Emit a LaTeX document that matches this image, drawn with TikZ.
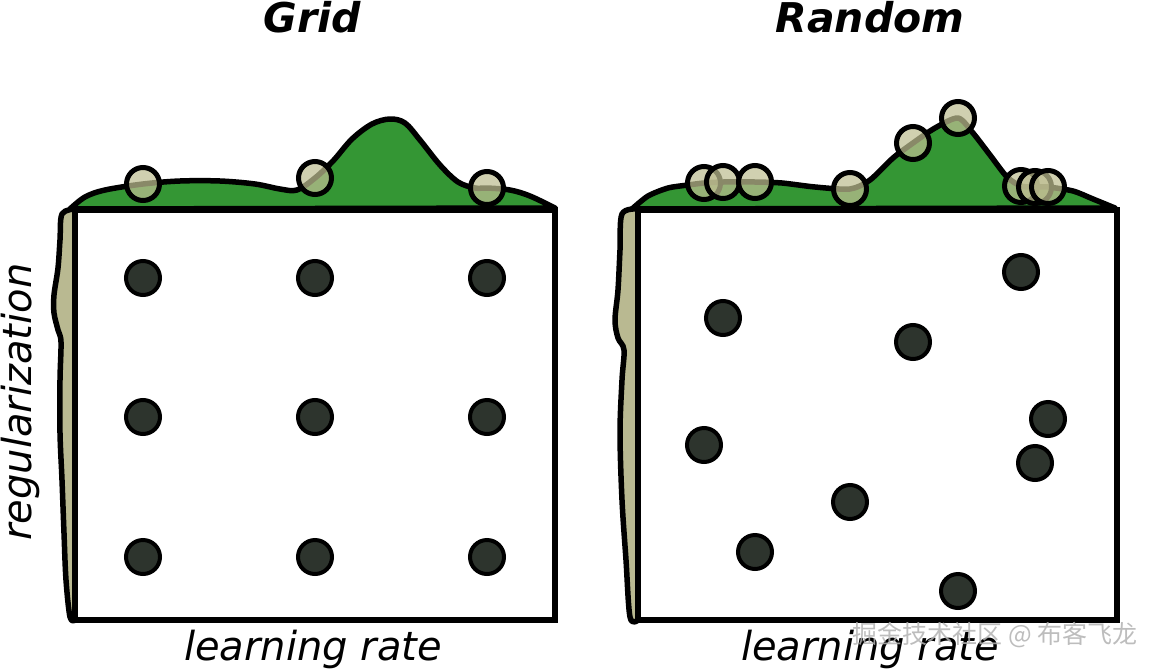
\documentclass[tikz,border=0pt]{standalone}
\usepackage{fontspec}
\setmainfont{DejaVu Sans}
\newfontfamily\cjk{Noto Sans CJK SC}
\definecolor{hillgreen}{RGB}{52,150,52}
\definecolor{sidetan}{RGB}{185,185,145}
\definecolor{balltan}{RGB}{190,190,145}
\definecolor{dotfill}{RGB}{45,52,45}
\tikzset{
  hill/.style={fill=hillgreen, draw=black, line width=5.5pt, line join=round, line cap=round},
  side/.style={fill=sidetan, draw=black, line width=5.5pt, line join=round, line cap=round},
  panel/.style={fill=white, draw=black, line width=6pt, line join=miter},
  ball/.style={circle, minimum size=33pt, inner sep=0pt, fill=balltan, fill opacity=0.72, draw=black, draw opacity=1, line width=5pt},
  pt/.style={circle, minimum size=34pt, inner sep=0pt, fill=dotfill, draw=black, line width=4pt},
  title/.style={font=\fontsize{41}{41}\selectfont\bfseries\itshape},
  axlabel/.style={font=\fontsize{40}{40}\selectfont\itshape},
}
\begin{document}
\begin{tikzpicture}[x=1pt,y=-1pt]
\useasboundingbox (0,0) rectangle (1154,670);

% ---------- left panel (Grid) ----------
\draw[hill] plot[smooth, tension=0.55] coordinates {(70,209) (85,197) (105,190) (143,184) (180,181) (220,181) (255,184) (280,189) (297,190) (315,178) (333,161) (352,139) (372,124) (390,119) (405,123) (420,140) (440,165) (458,182) (475,188) (487,188) (510,190) (530,196) (555,208)} -- cycle;
\draw[side] plot[smooth, tension=0.55] coordinates {(75,209) (62,214) (60,240) (58,268) (54,295) (54,313) (58,330) (61,342) (60,380) (60,433) (62,480) (64,533) (66,580) (70,617) (75,620)} -- cycle;
\draw[panel] (75,210) rectangle (555,620);

\node[ball] (gb1) at (143,184) {};
\node[ball] (gb2) at (315,178) {};
\node[ball] (gb3) at (487,188) {};

\foreach \i/\x in {1/143,2/315,3/487}{
  \foreach \j/\y in {1/278,2/417,3/557}{
    \node[pt] (g\i\j) at (\x,\y) {};
  }
}

\node[title] (tgrid) at (312,17) {Grid};
\node[axlabel, anchor=base] (xl1) at (313,660) {learning rate};
\node[axlabel, rotate=90] (yl) at (20,402) {regularization};

% ---------- right panel (Random) ----------
\draw[hill] plot[smooth, tension=0.45] coordinates {(632,209) (648,196) (668,188) (688,185) (704,183) (723,182) (755,182) (782,183) (815,187) (850,189) (870,180) (893,158) (913,143) (935,128) (958,118) (973,133) (990,155) (1007,177) (1021,186) (1035,187) (1048,187) (1073,191) (1093,199) (1115,208)} -- cycle;
\draw[side] plot[smooth, tension=0.55] coordinates {(638,209) (622,214) (620,250) (618,290) (615,320) (618,338) (624,350) (622,380) (620,433) (622,500) (626,560) (630,617) (638,620)} -- cycle;
\draw[panel] (638,210) rectangle (1117,620);

\foreach \n/\x/\y in {1/704/183,2/723/182,3/755/182,4/850/189,5/913/143,6/958/118,7/1021/186,8/1035/187,9/1048/187}{
  \node[ball] (rb\n) at (\x,\y) {};
}

\foreach \n/\x/\y in {1/1021/272,2/723/318,3/913/342,4/1048/419,5/704/445,6/1035/463,7/850/502,8/755/552,9/958/591}{
  \node[pt] (rp\n) at (\x,\y) {};
}

\node[title] (trand) at (870,17) {Random};
\node[axlabel, anchor=base] (xl2) at (870,660) {learning rate};

% watermark
\node[font=\cjk\fontsize{25}{25}\selectfont, text=black!30, opacity=0.85] (wm) at (995,635) {掘金技术社区 @ 布客飞龙};
\end{tikzpicture}
\end{document}
